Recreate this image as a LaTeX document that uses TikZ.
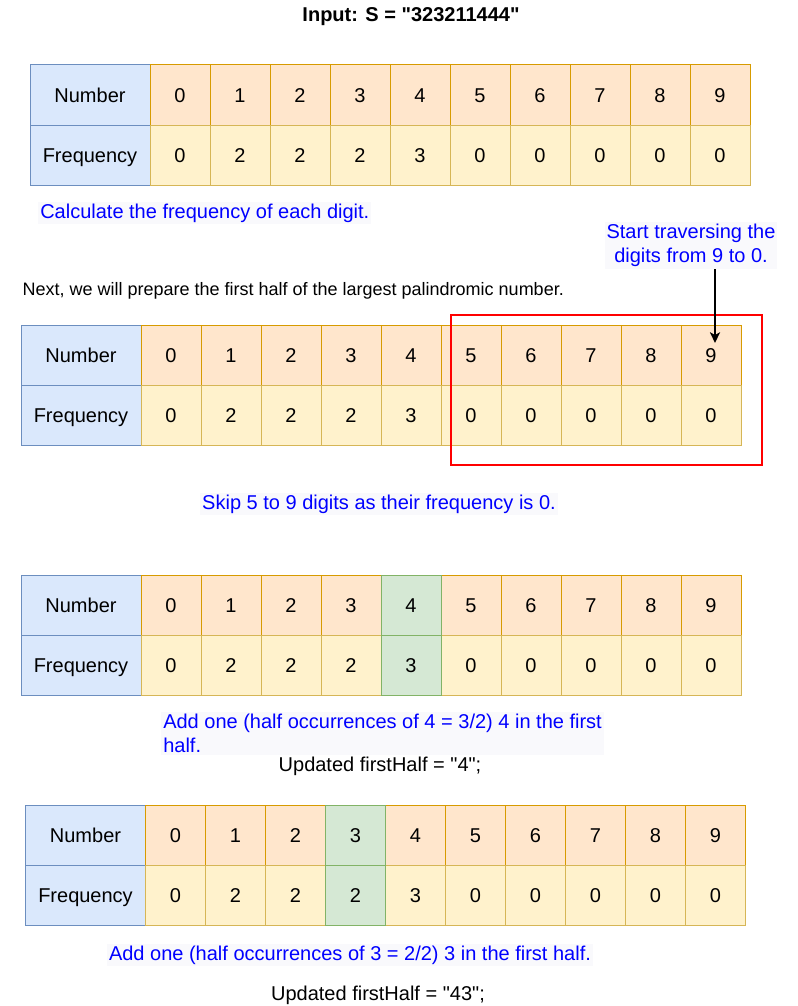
\documentclass[tikz,border=0pt]{standalone}
\usepackage{fontspec}
\setmainfont{Liberation Sans}[Ligatures=TeXOff]
\usetikzlibrary{arrows.meta,calc}
\definecolor{labfill}{HTML}{DAE8FC}
\definecolor{labdraw}{HTML}{6C8EBF}
\definecolor{numfill}{HTML}{FFE6CC}
\definecolor{numdraw}{HTML}{D79B00}
\definecolor{frqfill}{HTML}{FFF2CC}
\definecolor{frqdraw}{HTML}{D6B656}
\definecolor{grnfill}{HTML}{D5E8D4}
\definecolor{grndraw}{HTML}{82B366}
\definecolor{bluetxt}{HTML}{0000FF}
\definecolor{bluebg}{HTML}{F9F9FC}
\definecolor{redbox}{HTML}{FF0000}
\tikzset{
  cellbase/.style={rectangle, inner sep=0pt, line width=0.75pt, minimum height=45pt,
    text height=10.7pt, text depth=0pt,
    anchor=north west, font=\fontsize{15pt}{18pt}\selectfont, text=black},
  labcell/.style={cellbase, minimum width=90pt, fill=labfill, draw=labdraw},
  numcell/.style={cellbase, minimum width=45pt, fill=numfill, draw=numdraw},
  frqcell/.style={cellbase, minimum width=45pt, fill=frqfill, draw=frqdraw},
  grncell/.style={cellbase, minimum width=45pt, fill=grnfill, draw=grndraw},
  bluenote/.style={inner sep=1.5pt, fill=bluebg, text=bluetxt, font=\fontsize{15pt}{18pt}\selectfont},
  blacknote/.style={inner sep=1pt, text=black, font=\fontsize{15pt}{18pt}\selectfont},
  pointer/.style={line width=1.5pt, -{Stealth[length=8pt,width=7.5pt,inset=2pt]}},
  hilite/.style={draw=redbox, line width=1.5pt}
}
% #1 prefix, #2 x0, #3 y0, #4 green index (-1 for none)
\newcommand\freqtable[4]{%
  \node[labcell] (#1lab1) at (#2,#3) {Number};
  \node[labcell] (#1lab2) at (#2,#3+60) {Frequency};
  \foreach \f [count=\i from 0] in {0,2,2,2,3,0,0,0,0,0} {
    \node[numcell] (#1n\i) at ({#2+120+60*\i},#3) {\i};
    \node[frqcell] (#1f\i) at ({#2+120+60*\i},#3+60) {\f};
  }
  \ifnum#4>-1
    \foreach \f [count=\i from 0] in {0,2,2,2,3,0,0,0,0,0} {
      \ifnum\i=#4
        \node[grncell] (#1gn) at ({#2+120+60*\i},#3) {\i};
        \node[grncell] (#1gf) at ({#2+120+60*\i},#3+60) {\f};
      \fi
    }
  \fi
}
\begin{document}
\begin{tikzpicture}[x=0.75pt,y=-0.75pt]
  \useasboundingbox (0,0) rectangle (797,1006);
  \fill[white] (0,0) rectangle (797,1006);

  \node[font=\bfseries\fontsize{15pt}{18pt}\selectfont, inner sep=0pt] (title) at (411,17) {Input: S = "323211444"};

  \freqtable{a}{29.5}{64.5}{-1}
  \node[bluenote, anchor=west] (calc) at (38,213) {Calculate the frequency of each digit.};

  \node[bluenote, align=center, anchor=north, font=\fontsize{15pt}{18pt}\selectfont] (starttxt) at (691,222) {Start traversing the\\digits from 9 to 0.};
  \node[blacknote, anchor=west, font=\fontsize{13.5pt}{16pt}\selectfont] (nexttxt) at (21,291) {Next, we will prepare the first half of the largest palindromic number.};

  \freqtable{b}{20.5}{324.5}{-1}
  \draw[hilite] (451,315) rectangle (762,465);
  \coordinate (tip) at (715,343);
  \draw[pointer] (starttxt.south -| tip) -- (tip);

  \node[bluenote] (skip) at (379,504) {Skip 5 to 9 digits as their frequency is 0.};

  \freqtable{c}{20.5}{575}{4}
  \node[bluenote, anchor=north west, align=left, font=\fontsize{15pt}{18pt}\selectfont] (add4) at (161,712) {Add one (half occurrences of 4 = 3/2) 4 in the first\\half.};
  \node[blacknote] (upd4) at (380,766) {Updated firstHalf = "4";};

  \freqtable{d}{25}{805}{3}
  \node[bluenote] (add3) at (350,955) {Add one (half occurrences of 3 = 2/2) 3 in the first half.};
  \node[blacknote] (upd3) at (378,995) {Updated firstHalf = "43";};
\end{tikzpicture}
\end{document}
